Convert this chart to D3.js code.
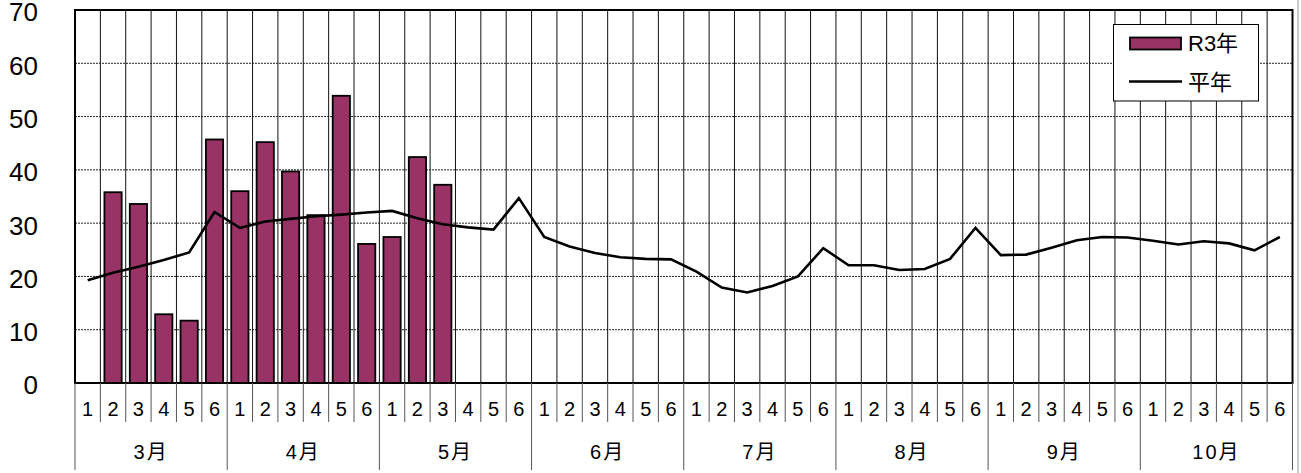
<!DOCTYPE html>
<html>
<head>
<meta charset="utf-8">
<title>R3年 vs 平年</title>
<script src="https://cdn.jsdelivr.net/npm/d3@7"></script>
<style>
  body { margin: 0; background: #fff; }
  text { font-family: "Liberation Sans", Arial, "Noto Sans CJK JP", sans-serif; fill: #000; }
</style>
</head>
<body>
<script>
// ---- data ----
var months = ["3月", "4月", "5月", "6月", "7月", "8月", "9月", "10月"];
var halves = ["1", "2", "3", "4", "5", "6"];   // 半旬
var r3 = [null, 35.8, 33.6, 12.9, 11.7, 45.7,
          36.0, 45.2, 39.7, 31.5, 53.9, 26.1,
          27.4, 42.4, 37.2];
var heinen = [19.3, 20.7, 21.8, 23.1, 24.5, 32.1,
              29.1, 30.3, 30.8, 31.3, 31.6, 32.0,
              32.3, 30.9, 29.8, 29.2, 28.8, 34.7,
              27.4, 25.6, 24.4, 23.6, 23.3, 23.2,
              20.9, 17.9, 17.0, 18.2, 20.0, 25.3,
              22.1, 22.1, 21.2, 21.4, 23.3, 29.1,
              24.0, 24.1, 25.4, 26.8, 27.4, 27.3,
              26.7, 26.0, 26.6, 26.2, 24.9, 27.4];
var yTicks = [0, 10, 20, 30, 40, 50, 60, 70];
var seriesNames = ["R3年", "平年"];

// ---- layout ----
var width = 1301, height = 473;
var plotL = 75, plotR = 1292.5, plotT = 10, plotB = 383;
var barColor = "#993366";

var svg = d3.select("body").append("svg")
  .attr("width", width).attr("height", height);

// one slot per 半旬
var cats = [];
months.forEach(function(m, mi) {
  halves.forEach(function(h, hi) { cats.push({ month: m, mi: mi, half: h, i: mi * 6 + hi }); });
});

var x = d3.scaleBand().domain(cats.map(function(d) { return d.i; })).range([plotL, plotR]);
var y = d3.scaleLinear().domain([0, 70]).range([plotB, plotT]);
var bw = x.bandwidth();

// outer frame line on the right
svg.append("line").attr("x1", 1298).attr("x2", 1298).attr("y1", 0).attr("y2", height)
  .attr("stroke", "#999").attr("stroke-width", 1);

// horizontal grid
svg.append("g").selectAll("line")
  .data(yTicks.filter(function(t) { return t > 0 && t < 70; }))
  .enter().append("line")
  .attr("x1", plotL).attr("x2", plotR)
  .attr("y1", function(d) { return y(d); }).attr("y2", function(d) { return y(d); })
  .attr("stroke", "#222").attr("stroke-width", 1).attr("stroke-dasharray", "2,1");

// vertical grid (between slots)
svg.append("g").selectAll("line")
  .data(cats.slice(1))
  .enter().append("line")
  .attr("x1", function(d) { return x(d.i); }).attr("x2", function(d) { return x(d.i); })
  .attr("y1", plotT).attr("y2", plotB)
  .attr("stroke", "#111").attr("stroke-width", 1);

// bars
svg.append("g").selectAll("rect")
  .data(r3.map(function(v, i) { return { v: v, i: i }; }).filter(function(d) { return d.v != null; }))
  .enter().append("rect")
  .attr("x", function(d) { return x(d.i) + bw * 0.16; })
  .attr("width", bw * 0.68)
  .attr("y", function(d) { return y(d.v); })
  .attr("height", function(d) { return y(0) - y(d.v); })
  .attr("fill", barColor).attr("stroke", "#000").attr("stroke-width", 1.8);

// 平年 line
var line = d3.line()
  .x(function(d, i) { return x(i) + bw / 2; })
  .y(function(d) { return y(d); });
svg.append("path").datum(heinen)
  .attr("d", line).attr("fill", "none")
  .attr("stroke", "#000").attr("stroke-width", 2.6).attr("stroke-linejoin", "miter");

// plot frame
svg.append("rect").attr("x", plotL).attr("y", plotT)
  .attr("width", plotR - plotL).attr("height", plotB - plotT)
  .attr("fill", "none").attr("stroke", "#000").attr("stroke-width", 2);

// y axis labels
var yAxis = d3.axisLeft(y).tickValues(yTicks).tickSize(0).tickPadding(0);
var gy = svg.append("g").attr("transform", "translate(38,0)").call(yAxis);
gy.select(".domain").remove();
gy.selectAll("text").attr("font-size", "26px").attr("dy", "0.42em")
  .style("font-family", "'Liberation Sans', Arial, sans-serif");

// category labels row
var gx = svg.append("g");
gx.selectAll("line.half")
  .data(cats.filter(function(d) { return d.i % 6 != 0; }))
  .enter().append("line").attr("class", "half")
  .attr("x1", function(d) { return x(d.i); }).attr("x2", function(d) { return x(d.i); })
  .attr("y1", plotB).attr("y2", 422)
  .attr("stroke", "#555").attr("stroke-width", 1);
gx.selectAll("line.month")
  .data(d3.range(months.length + 1))
  .enter().append("line").attr("class", "month")
  .attr("x1", function(d) { return d < months.length ? x(d * 6) : plotR; })
  .attr("x2", function(d) { return d < months.length ? x(d * 6) : plotR; })
  .attr("y1", plotB).attr("y2", 470)
  .attr("stroke", "#555").attr("stroke-width", 1);
gx.selectAll("text.half")
  .data(cats).enter().append("text").attr("class", "half")
  .attr("x", function(d) { return x(d.i) + bw / 2; })
  .attr("y", 409).attr("dy", "0.36em")
  .attr("text-anchor", "middle").attr("font-size", "20px")
  .text(function(d) { return d.half; });
gx.selectAll("text.month")
  .data(months).enter().append("text").attr("class", "month")
  .attr("x", function(d, i) { return x(i * 6) + bw * 3; })
  .attr("y", 452).attr("dy", "0.36em")
  .attr("text-anchor", "middle").attr("font-size", "20px")
  .attr("letter-spacing", "2px")
  .text(function(d) { return d; });

// legend
var lg = svg.append("g");
lg.append("rect").attr("x", 1113.5).attr("y", 24.5).attr("width", 145).attr("height", 76.5)
  .attr("fill", "#fff").attr("stroke", "#000").attr("stroke-width", 1);
lg.append("rect").attr("x", 1130).attr("y", 37.5).attr("width", 51).attr("height", 12)
  .attr("fill", barColor).attr("stroke", "#000").attr("stroke-width", 1.8);
lg.append("line").attr("x1", 1129).attr("x2", 1182).attr("y1", 81.5).attr("y2", 81.5)
  .attr("stroke", "#000").attr("stroke-width", 2.6);
lg.selectAll("text").data(seriesNames).enter().append("text")
  .attr("x", 1188).attr("y", function(d, i) { return i == 0 ? 43.5 : 82.5; })
  .attr("dy", "0.36em").attr("font-size", "22px")
  .text(function(d) { return d; });
</script>
</body>
</html>
